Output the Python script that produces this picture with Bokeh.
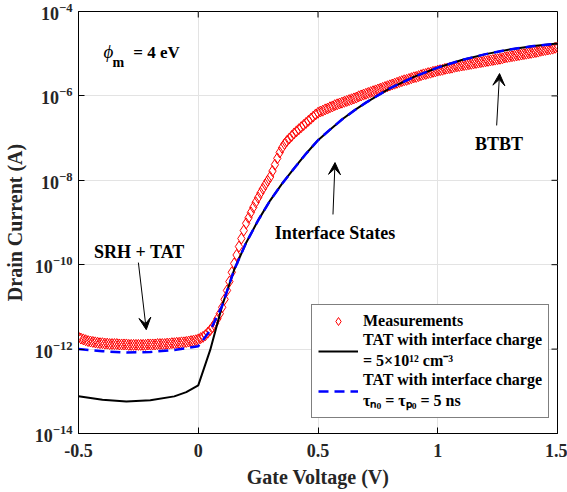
from bokeh.plotting import figure
from bokeh.models import (FixedTicker, Legend, LegendItem, Arrow, VeeHead, Range1d,
                          ColumnDataSource)
from bokeh.core.properties import value
from bokeh.embed import file_html
from bokeh.resources import INLINE

# ---------------- data (log10 of drain current in A) ----------------
meas_vg = [round(-0.5 + 0.01 * i, 2) for i in range(201)]
meas_log_id = [
    -11.72, -11.75, -11.77, -11.79, -11.81, -11.82, -11.83, -11.84, -11.85, -11.86,
    -11.86, -11.87, -11.87, -11.88, -11.88, -11.88, -11.88, -11.89, -11.89, -11.89,
    -11.89, -11.90, -11.90, -11.90, -11.90, -11.90, -11.90, -11.90, -11.90, -11.89,
    -11.89, -11.89, -11.89, -11.88, -11.88, -11.88, -11.88, -11.87, -11.87, -11.86,
    -11.86, -11.85, -11.85, -11.84, -11.84, -11.83, -11.82, -11.81, -11.80, -11.79,
    -11.77, -11.74, -11.71, -11.67, -11.61, -11.55, -11.48, -11.39, -11.28, -11.16,
    -11.01, -10.82, -10.61, -10.40, -10.18, -9.97, -9.77, -9.57, -9.38, -9.19,
    -9.02, -8.89, -8.76, -8.64, -8.52, -8.41, -8.30, -8.20, -8.10, -8.01,
    -7.92, -7.78, -7.63, -7.48, -7.34, -7.23, -7.14, -7.07, -7.01, -6.95,
    -6.89, -6.84, -6.79, -6.74, -6.69, -6.64, -6.59, -6.54, -6.49, -6.44,
    -6.40, -6.37, -6.35, -6.32, -6.30, -6.27, -6.25, -6.22, -6.20, -6.18,
    -6.16, -6.14, -6.12, -6.10, -6.08, -6.06, -6.04, -6.01, -5.99, -5.97,
    -5.95, -5.93, -5.91, -5.89, -5.87, -5.85, -5.83, -5.81, -5.79, -5.77,
    -5.75, -5.73, -5.71, -5.69, -5.67, -5.65, -5.63, -5.62, -5.60, -5.58,
    -5.56, -5.55, -5.53, -5.51, -5.49, -5.48, -5.46, -5.45, -5.43, -5.42,
    -5.40, -5.39, -5.38, -5.36, -5.35, -5.34, -5.33, -5.31, -5.30, -5.29,
    -5.28, -5.27, -5.26, -5.25, -5.24, -5.23, -5.22, -5.21, -5.20, -5.19,
    -5.18, -5.17, -5.16, -5.15, -5.14, -5.13, -5.12, -5.11, -5.09, -5.08,
    -5.07, -5.06, -5.05, -5.04, -5.03, -5.02, -5.01, -5.00, -4.99, -4.98,
    -4.97, -4.96, -4.95, -4.93, -4.92, -4.91, -4.90, -4.89, -4.88, -4.86,
    -4.85,
]

sim_vg = [-0.5, -0.4, -0.3, -0.2, -0.1, -0.05, 0.0, 0.05, 0.1, 0.15, 0.2, 0.25,
          0.3, 0.35, 0.4, 0.45, 0.5, 0.55, 0.6, 0.65, 0.7, 0.8, 0.9, 1.0, 1.1, 1.2,
          1.3, 1.4, 1.5]
tat_charge_log_id = [-13.12, -13.20, -13.24, -13.21, -13.12, -13.02, -12.86, -12.02,
                     -10.97, -10.12, -9.48, -8.95, -8.48, -8.08, -7.72, -7.37, -7.05,
                     -6.80, -6.56, -6.35, -6.16, -5.82, -5.55, -5.33, -5.15, -5.01,
                     -4.90, -4.82, -4.76]
tat_tau_log_id = [-12.00, -12.05, -12.08, -12.07, -12.02, -11.98, -11.93, -11.56,
                  -10.97, -10.12, -9.48, -8.95, -8.48, -8.08, -7.72, -7.37, -7.05,
                  -6.80, -6.56, -6.35, -6.16, -5.82, -5.55, -5.33, -5.15, -5.01,
                  -4.90, -4.82, -4.76]

x_ticks = [-0.5, 0, 0.5, 1, 1.5]
x_tick_labels = ["-0.5", "0", "0.5", "1", "1.5"]
y_ticks = [1e-14, 1e-12, 1e-10, 1e-8, 1e-6, 1e-4]

legend_labels = [
    "Measurements",
    "TAT with interface charge\n= 5\u00d710\u00b9\u00b2 cm\u207b\u00b3",
    "TAT with interface charge\n\u03c4\u2099\u2080 = \u03c4\u209a\u2080 = 5 ns",
]

# annotation texts (x, log10 y)
notes = ["SRH + TAT", "Interface States", "BTBT"]
notes_x = [-0.246, 0.571, 1.256]
notes_logy = [-9.69, -9.24, -7.13]

# arrows: start/end (x, log10 y)
arr_x0 = [-0.25, 0.5625, 1.246]
arr_y0 = [-9.95, -8.81, -6.70]
arr_x1 = [-0.217, 0.571, 1.258]
arr_y1 = [-11.54, -7.58, -5.47]

FONT = "Liberation Serif"
X0, X1 = -0.5, 1.5
Y0, Y1 = 1e-14, 1e-4
FRAME_W, FRAME_H = 480, 422
TICK_PX = 6

p = figure(width=567, height=492, y_axis_type="log",
           x_range=Range1d(X0, X1), y_range=Range1d(Y0, Y1),
           output_backend="svg", toolbar_location=None,
           min_border_left=77, min_border_right=10, min_border_top=11, min_border_bottom=59)

p.outline_line_color = "black"
p.outline_line_width = 1
p.background_fill_color = "white"
p.border_fill_color = "white"

p.xaxis.ticker = FixedTicker(ticks=x_ticks)
p.xaxis.major_label_overrides = {t: s for t, s in zip(x_ticks, x_tick_labels)}
p.yaxis.ticker = FixedTicker(ticks=y_ticks)

for ax in (p.xaxis, p.yaxis):
    ax.major_label_text_font = FONT
    ax.major_label_text_font_style = "bold"
    ax.major_label_text_font_size = "18px"
    ax.major_label_text_color = "#262626"
    ax.axis_label_text_font = FONT
    ax.axis_label_text_font_style = "bold"
    ax.axis_label_text_font_size = "20px"
    ax.axis_label_text_color = "#262626"
    ax.major_tick_in = TICK_PX
    ax.major_tick_out = 0
    ax.minor_tick_line_color = None
    ax.axis_line_color = "black"
    ax.major_tick_line_color = "black"
p.xaxis.axis_label = "Gate Voltage (V)"
p.yaxis.axis_label = "Drain Current (A)"
p.xaxis.major_label_standoff = 10
p.yaxis.major_label_standoff = 6
p.xaxis.axis_label_standoff = 6
p.yaxis.axis_label_standoff = 6

p.xgrid.grid_line_color = "#e3e3e3"
p.ygrid.grid_line_color = "#e3e3e3"
p.xgrid.grid_line_width = 1
p.ygrid.grid_line_width = 1

# mirrored inward ticks on the right and top frame edges
dx = (X1 - X0) / FRAME_W * TICK_PX
dlog = (14 - 4) / FRAME_H * TICK_PX
p.segment(x0=[X1] * len(y_ticks), y0=y_ticks, x1=[X1 - dx] * len(y_ticks), y1=y_ticks,
          line_color="black", line_width=1)
p.segment(x0=x_ticks, y0=[Y1] * len(x_ticks), x1=x_ticks,
          y1=[Y1 * 10 ** (-dlog)] * len(x_ticks), line_color="black", line_width=1)

meas_src = ColumnDataSource(dict(x=meas_vg, y=[10 ** v for v in meas_log_id]))
r_meas = p.scatter("x", "y", source=meas_src, marker="diamond", size=11,
                   fill_color=None, line_color="#ff0000", line_width=1)
r_black = p.line(sim_vg, [10 ** v for v in tat_charge_log_id], line_color="black", line_width=2)
r_blue = p.line(sim_vg, [10 ** v for v in tat_tau_log_id], line_color="#0000ff",
                line_width=2.5, line_dash="10 6")

legend = Legend(items=[LegendItem(label=legend_labels[0], renderers=[r_meas]),
                       LegendItem(label=legend_labels[1], renderers=[r_black]),
                       LegendItem(label=legend_labels[2], renderers=[r_blue])],
                location=(233, 15))
legend.label_text_font = FONT
legend.label_text_font_style = "bold"
legend.label_text_font_size = "16px"
legend.label_text_color = "black"
legend.glyph_width = 40
legend.glyph_height = 20
legend.label_standoff = 5
legend.label_height = 18
legend.padding = 6
legend.spacing = 0
legend.margin = 0
legend.border_line_color = "black"
legend.border_line_width = 1
legend.background_fill_alpha = 1
p.add_layout(legend)

# annotation texts
p.text(x=notes_x, y=[10 ** v for v in notes_logy], text=notes,
       text_font=value(FONT), text_font_style="bold", text_font_size="18px",
       text_align="center", text_baseline="alphabetic", text_color="black")

# phi_m = 4 eV
p.text(x=[-0.396], y=[10 ** -4.95], text=["\u03d5"], text_font=value(FONT),
       text_font_style="italic", text_font_size="19px", text_baseline="alphabetic")
p.text(x=[-0.358], y=[10 ** -5.21], text=["m"], text_font=value(FONT),
       text_font_style="bold", text_font_size="14px", text_baseline="alphabetic")
p.text(x=[-0.271], y=[10 ** -4.97], text=["= 4 eV"], text_font=value(FONT),
       text_font_style="bold", text_font_size="17px", text_baseline="alphabetic")

for xs, ys, xe, ye in zip(arr_x0, arr_y0, arr_x1, arr_y1):
    p.add_layout(Arrow(end=VeeHead(size=12, fill_color="black", line_color="black"),
                       x_start=xs, y_start=10 ** ys, x_end=xe, y_end=10 ** ye,
                       line_color="black", line_width=1))

open("out.html", "w").write(file_html(p, INLINE))
